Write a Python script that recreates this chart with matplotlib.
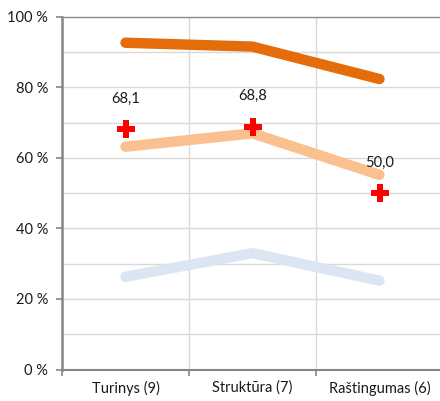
import matplotlib
matplotlib.use("Agg")
import matplotlib.pyplot as plt
from matplotlib.ticker import MultipleLocator, FuncFormatter

categories = ["Turinys (9)", "Struktūra (7)", "Raštingumas (6)"]
series_dark = [92.7, 91.6, 82.4]
series_light = [63.2, 67.0, 55.2]
series_blue = [26.3, 33.0, 25.2]
markers_red = [68.1, 68.8, 50.0]
marker_labels = ["68,1", "68,8", "50,0"]

plt.rcParams['font.family'] = ['Lato', 'DejaVu Sans']

fig = plt.figure(figsize=(4.40, 4.01), dpi=100)
W, H = 440, 401
x0, x1 = 62, 443
y0, y1 = 369.5, 17
ax = fig.add_axes([x0 / W, (H - y0) / H, (x1 - x0) / W, (y0 - y1) / H])

x = list(range(len(categories)))
ax.plot(x, series_blue, color="#DCE6F2", lw=7.5, solid_capstyle="round", solid_joinstyle="round", zorder=3)
ax.plot(x, series_light, color="#FAC090", lw=7.5, solid_capstyle="round", solid_joinstyle="round", zorder=3)
ax.plot(x, series_dark, color="#E46C0A", lw=7.5, solid_capstyle="round", solid_joinstyle="round", zorder=3)
ax.plot(x, markers_red, linestyle="none", marker="P", color="#FF0000", markersize=13.5, markeredgewidth=0, zorder=4)
for xi, v, lab in zip(x, markers_red, marker_labels):
    ax.annotate(lab, (xi, v), xytext=(0, 17), textcoords="offset points", ha="center", va="bottom",
                fontsize=10.5, color="#1a1a1a")

ax.set_xlim(-0.5, len(categories) - 0.5)
ax.set_ylim(0, 100)
ax.yaxis.set_major_locator(MultipleLocator(20))
ax.yaxis.set_minor_locator(MultipleLocator(10))
ax.yaxis.set_major_formatter(FuncFormatter(lambda v, p: f"{int(v)} %"))
ax.set_xticks([i + 0.5 for i in range(-1, len(categories))])
ax.set_xticklabels([])
ax.set_xticks(x, minor=True)
ax.set_xticklabels(categories, minor=True)

ax.grid(True, which="both", axis="y", color="#D9D9D9", lw=1.0, zorder=0)
ax.grid(True, which="major", axis="x", color="#D9D9D9", lw=1.0, zorder=0)
ax.set_axisbelow(True)

ax.spines["right"].set_visible(False)
ax.spines["top"].set_color("#8C8C8C")
ax.spines["top"].set_linewidth(1.0)
ax.spines["left"].set_color("#868686")
ax.spines["left"].set_linewidth(1.8)
ax.spines["bottom"].set_color("#868686")
ax.spines["bottom"].set_linewidth(1.5)

ax.tick_params(axis="y", which="major", length=4, width=1.2, color="#868686", labelsize=10.5, labelcolor="#1a1a1a", pad=6)
ax.tick_params(axis="y", which="minor", length=0)
ax.tick_params(axis="x", which="major", length=4, width=1.2, color="#868686")
ax.tick_params(axis="x", which="minor", length=0, labelsize=10.5, labelcolor="#1a1a1a", pad=8)

fig.savefig("out.png", dpi=100)
